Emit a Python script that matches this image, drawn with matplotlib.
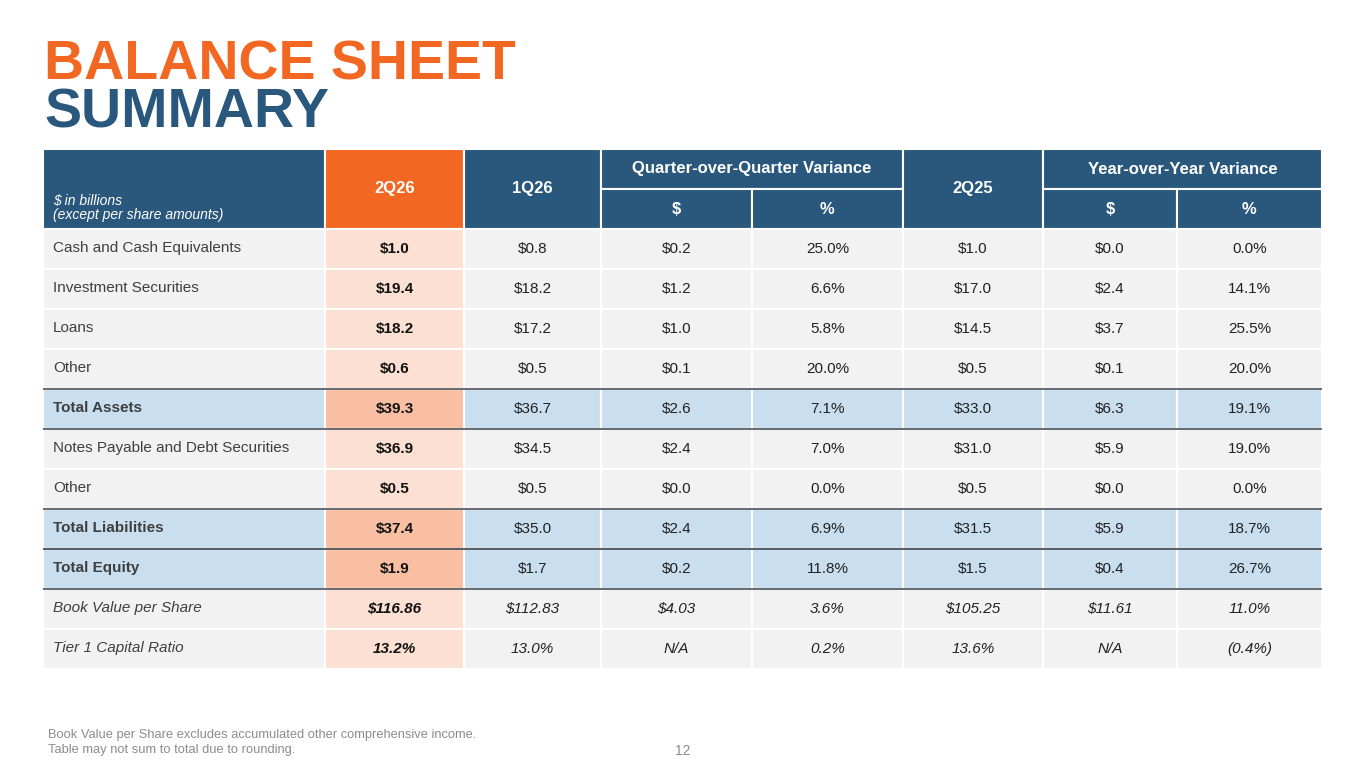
import matplotlib
matplotlib.use("Agg")
import matplotlib.pyplot as plt
from matplotlib.patches import Rectangle

plt.rcParams['font.family'] = ['Liberation Sans', 'DejaVu Sans']

# ---------------- data ----------------
row_labels = ["Cash and Cash Equivalents", "Investment Securities", "Loans", "Other",
              "Total Assets", "Notes Payable and Debt Securities", "Other",
              "Total Liabilities", "Total Equity", "Book Value per Share",
              "Tier 1 Capital Ratio"]
col_2q26 = ["$1.0", "$19.4", "$18.2", "$0.6", "$39.3", "$36.9", "$0.5", "$37.4", "$1.9", "$116.86", "13.2%"]
col_1q26 = ["$0.8", "$18.2", "$17.2", "$0.5", "$36.7", "$34.5", "$0.5", "$35.0", "$1.7", "$112.83", "13.0%"]
col_qoq_d = ["$0.2", "$1.2", "$1.0", "$0.1", "$2.6", "$2.4", "$0.0", "$2.4", "$0.2", "$4.03", "N/A"]
col_qoq_p = ["25.0%", "6.6%", "5.8%", "20.0%", "7.1%", "7.0%", "0.0%", "6.9%", "11.8%", "3.6%", "0.2%"]
col_2q25 = ["$1.0", "$17.0", "$14.5", "$0.5", "$33.0", "$31.0", "$0.5", "$31.5", "$1.5", "$105.25", "13.6%"]
col_yoy_d = ["$0.0", "$2.4", "$3.7", "$0.1", "$6.3", "$5.9", "$0.0", "$5.9", "$0.4", "$11.61", "N/A"]
col_yoy_p = ["0.0%", "14.1%", "25.5%", "20.0%", "19.1%", "19.0%", "0.0%", "18.7%", "26.7%", "11.0%", "(0.4%)"]
total_rows = [4, 7, 8]
italic_rows = [9, 10]
header_top = ["2Q26", "1Q26", "Quarter-over-Quarter Variance", "2Q25", "Year-over-Year Variance"]
header_sub = ["$", "%", "$", "%"]
unit_note = ["$ in billions", "(except per share amounts)"]
footnotes = ["Book Value per Share excludes accumulated other comprehensive income.",
             "Table may not sum to total due to rounding."]
page_number = "12"

# ---------------- layout ----------------
ORANGE = "#F26722"
NAVY = "#2A587C"
GRAY_ROW = "#F2F2F2"
PEACH = "#FCE0D3"
BLUE_ROW = "#C9DEEE"
SALMON = "#F9BFA3"
LINE = "#5A5F66"

col_edges = [43, 325, 464, 601, 752, 903, 1043, 1177, 1322]
head_y0, head_mid, head_y1 = 149, 189, 229
row_h = 40

fig = plt.figure(figsize=(13.65, 7.68), dpi=100)
ax = fig.add_axes([0, 0, 1, 1])
ax.set_xlim(0, 1365)
ax.set_ylim(768, 0)
ax.axis('off')

# Title
ax.text(44, 80, "BALANCE SHEET", color=ORANGE, fontsize=40, fontweight='bold',
        ha='left', va='baseline')
ax.text(44, 127, "SUMMARY", color=NAVY, fontsize=40, fontweight='bold',
        ha='left', va='baseline')

# Header cells
def rect(x0, y0, x1, y1, fc):
    ax.add_patch(Rectangle((x0, y0), x1 - x0, y1 - y0, facecolor=fc, edgecolor='white', lw=1.5))

rect(col_edges[0], head_y0, col_edges[1], head_y1, NAVY)
rect(col_edges[1], head_y0, col_edges[2], head_y1, ORANGE)
rect(col_edges[2], head_y0, col_edges[3], head_y1, NAVY)
rect(col_edges[3], head_y0, col_edges[5], head_mid, NAVY)
rect(col_edges[3], head_mid, col_edges[4], head_y1, NAVY)
rect(col_edges[4], head_mid, col_edges[5], head_y1, NAVY)
rect(col_edges[5], head_y0, col_edges[6], head_y1, NAVY)
rect(col_edges[6], head_y0, col_edges[8], head_mid, NAVY)
rect(col_edges[6], head_mid, col_edges[7], head_y1, NAVY)
rect(col_edges[7], head_mid, col_edges[8], head_y1, NAVY)

hkw = dict(color='white', fontsize=12, fontweight='bold', ha='center', va='center')
mid_y = (head_y0 + head_y1) / 2
ax.text((col_edges[1] + col_edges[2]) / 2, mid_y, header_top[0], **hkw)
ax.text((col_edges[2] + col_edges[3]) / 2, mid_y, header_top[1], **hkw)
ax.text((col_edges[3] + col_edges[5]) / 2, (head_y0 + head_mid) / 2, header_top[2], **hkw)
ax.text((col_edges[5] + col_edges[6]) / 2, mid_y, header_top[3], **hkw)
ax.text((col_edges[6] + col_edges[8]) / 2, (head_y0 + head_mid) / 2, header_top[4], **hkw)
for i, s in enumerate(header_sub):
    c = [3, 4, 6, 7][i]
    ax.text((col_edges[c] + col_edges[c + 1]) / 2, (head_mid + head_y1) / 2, s, **hkw)
ax.text(53, 201, unit_note[0], color='white', fontsize=10, style='italic', ha='left', va='center')
ax.text(53, 215, unit_note[1], color='white', fontsize=10, style='italic', ha='left', va='center')

# Body
columns = [col_2q26, col_1q26, col_qoq_d, col_qoq_p, col_2q25, col_yoy_d, col_yoy_p]
for r, label in enumerate(row_labels):
    y0 = head_y1 + r * row_h
    y1 = y0 + row_h
    is_total = r in total_rows
    is_it = r in italic_rows
    for c in range(8):
        if c == 1:
            fc = SALMON if is_total else PEACH
        else:
            fc = BLUE_ROW if is_total else GRAY_ROW
        rect(col_edges[c], y0, col_edges[c + 1], y1, fc)
    yc = (y0 + y1) / 2 - 1
    ax.text(53, yc, label, color='#3F3F3F', fontsize=11, ha='left', va='center',
            fontweight='bold' if is_total else 'normal',
            style='italic' if is_it else 'normal')
    for c, col in enumerate(columns):
        cx = (col_edges[c + 1] + col_edges[c + 2]) / 2
        ax.text(cx, yc + 1, col[r], color='#111111' if c == 0 else '#222222', fontsize=11,
                ha='center', va='center',
                fontweight='bold' if c == 0 else 'normal',
                style='italic' if is_it else 'normal')

# dark separator lines around total rows
for r in total_rows:
    for yy in (head_y1 + r * row_h, head_y1 + (r + 1) * row_h):
        ax.plot([col_edges[0], col_edges[-1]], [yy, yy], color=LINE, lw=1.3, solid_capstyle='butt')

# Footnotes
ax.text(48, 735, footnotes[0], color='#8C8C8C', fontsize=9.3, ha='left', va='center')
ax.text(48, 750, footnotes[1], color='#8C8C8C', fontsize=9.3, ha='left', va='center')
ax.text(683, 751, page_number, color='#8C8C8C', fontsize=10, ha='center', va='center')

fig.savefig("out.png", dpi=100)
